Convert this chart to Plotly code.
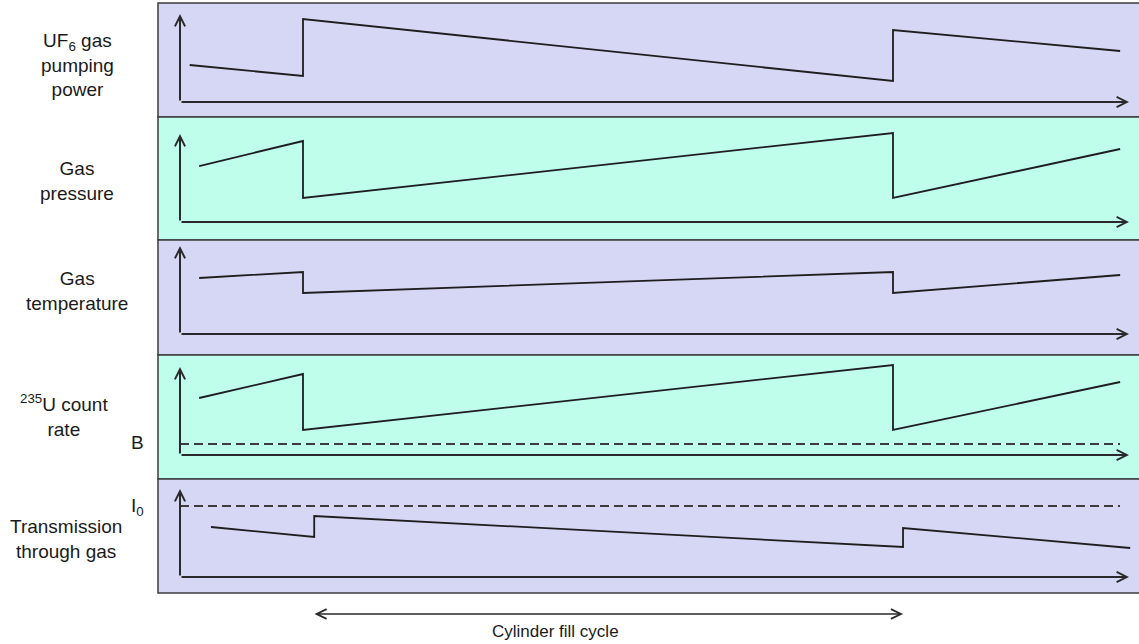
import plotly.graph_objects as go

# ---------------- data (arbitrary units) ----------------
# time axis: one cylinder fill cycle runs from t=0 to t=1
t_main = [-0.176, 0.0, 0.0, 1.0, 1.0, 1.385]
t_power = [-0.192, 0.0, 0.0, 1.0, 1.0, 1.385]
t_trans = [-0.156, 0.019, 0.019, 1.017, 1.017, 1.402]

pumping_power = [37, 26, 83, 21, 72, 51]
gas_pressure = [56, 81, 24, 89, 24, 73]
gas_temperature = [56, 62, 41, 62, 41, 59]
u235_count_rate = [57, 81, 25, 90, 25, 73]
transmission = [50, 40, 61, 30, 49, 29]

background_B = 11
intensity_I0 = 71

cycle_start, cycle_end = 0.017, 1.017

labels = [
    "UF<sub>6</sub> gas<br>pumping<br>power",
    "Gas<br>pressure",
    "Gas<br>temperature",
    "<sup>235</sup>U count<br>rate",
    "Transmission<br>through gas",
]

# ---------------- layout constants (pixels) ----------------
W, H = 1139, 644
LEFT = 158
PX_PER_T = 590.0
T0_PX = 303
AXIS_X_PX = 180
ARROW_TIP_PX = 1129
DASH_END_PX = 1120
# (top, bottom, origin, arrow tip y)
PANELS = [(3, 117, 102, 14), (117, 240, 222, 134), (240, 355, 334, 246),
          (355, 479, 455, 367), (479, 593, 577, 489)]
COLORS = ["#d6d6f5", "#c0feec", "#d6d6f5", "#c0feec", "#d6d6f5"]
LABEL_POS = [(77, 65), (77, 181), (77, 291), (64, 415), (66, 539)]
FONT = "Liberation Sans, Arial"


def t_of(px):
    return (px - T0_PX) / PX_PER_T


t_axis = t_of(AXIS_X_PX)
t_tip = t_of(ARROW_TIP_PX)
t_dash_end = t_of(DASH_END_PX)

series = [(t_power, pumping_power), (t_main, gas_pressure), (t_main, gas_temperature),
          (t_main, u235_count_rate), (t_trans, transmission)]

fig = go.Figure()
layout = dict(
    width=W, height=H, autosize=False,
    margin=dict(l=0, r=0, t=0, b=0),
    paper_bgcolor="white", plot_bgcolor="rgba(0,0,0,0)",
    showlegend=False,
    xaxis=dict(domain=[LEFT / W, 1], range=[t_of(LEFT), t_of(W)], visible=False, fixedrange=True),
)
shapes = []
annotations = []
LINE_C = "#1e1e1e"
AX_C = "#2a2a2a"

for i, ((top, bot, org, tip), (tx, ty)) in enumerate(zip(PANELS, series)):
    yname = "yaxis" if i == 0 else f"yaxis{i+1}"
    yref = "y" if i == 0 else f"y{i+1}"
    layout[yname] = dict(domain=[1 - bot / H, 1 - top / H], range=[-(bot - org), org - top],
                         visible=False, fixedrange=True)
    shapes.append(dict(type="rect", xref="paper", yref="paper", x0=LEFT / W, x1=1.01,
                       y0=1 - bot / H, y1=1 - top / H, fillcolor=COLORS[i],
                       line=dict(color="#3c3c3c", width=1.5), layer="below"))
    fig.add_trace(go.Scatter(x=tx, y=ty, mode="lines", xaxis="x", yaxis=yref,
                             line=dict(color=LINE_C, width=1.8), hoverinfo="skip"))
    tip_val = org - tip
    # y axis arrow
    annotations.append(dict(x=t_axis, y=tip_val, ax=t_axis, ay=0, xref="x", yref=yref,
                            axref="x", ayref=yref, text="", showarrow=True,
                            arrowhead=5, arrowsize=1.0, arrowwidth=2, arrowcolor=AX_C))
    # x axis arrow
    annotations.append(dict(x=t_tip, y=0, ax=t_axis, ay=0, xref="x", yref=yref,
                            axref="x", ayref=yref, text="", showarrow=True,
                            arrowhead=5, arrowsize=1.0, arrowwidth=2, arrowcolor=AX_C))
    lx, ly = LABEL_POS[i]
    annotations.append(dict(x=lx / W, y=1 - ly / H, xref="paper", yref="paper", text=labels[i],
                            showarrow=False, xanchor="center", yanchor="middle",
                            font=dict(family=FONT, size=19, color="#1a1a1a")))

# dashed reference levels
fig.add_trace(go.Scatter(x=[t_axis, t_dash_end], y=[background_B, background_B], mode="lines",
                         xaxis="x", yaxis="y4", hoverinfo="skip",
                         line=dict(color="#3c3c3c", width=2, dash="9px,5px")))
fig.add_trace(go.Scatter(x=[t_axis, t_dash_end], y=[intensity_I0, intensity_I0], mode="lines",
                         xaxis="x", yaxis="y5", hoverinfo="skip",
                         line=dict(color="#3c3c3c", width=2, dash="9px,5px")))

annotations.append(dict(x=137 / W, y=1 - 442 / H, xref="paper", yref="paper", text="B",
                        showarrow=False, xanchor="center", yanchor="middle",
                        font=dict(family=FONT, size=19, color="#1a1a1a")))
annotations.append(dict(x=137 / W, y=1 - 507 / H, xref="paper", yref="paper", text="I<sub>0</sub>",
                        showarrow=False, xanchor="center", yanchor="middle",
                        font=dict(family=FONT, size=19, color="#1a1a1a")))

# cylinder fill cycle double arrow
annotations.append(dict(x=cycle_end, y=1 - 614 / H, ax=cycle_start, ay=0,
                        xref="x", yref="paper", axref="x", ayref="pixel", text="",
                        showarrow=True, arrowhead=5, startarrowhead=5, arrowside="end+start",
                        arrowsize=1.3, startarrowsize=1.3, arrowwidth=1.5, arrowcolor=AX_C))
annotations.append(dict(x=555 / W, y=1 - 631 / H, xref="paper", yref="paper",
                        text="Cylinder fill cycle", showarrow=False, xanchor="center",
                        yanchor="middle",
                        font=dict(family=FONT, size=17, color="#1a1a1a")))

layout["shapes"] = shapes
layout["annotations"] = annotations
fig.update_layout(**layout)
fig.write_html("out.html", config={"displayModeBar": False},
               post_script="document.body.style.margin='0';document.body.style.overflow='hidden';")
